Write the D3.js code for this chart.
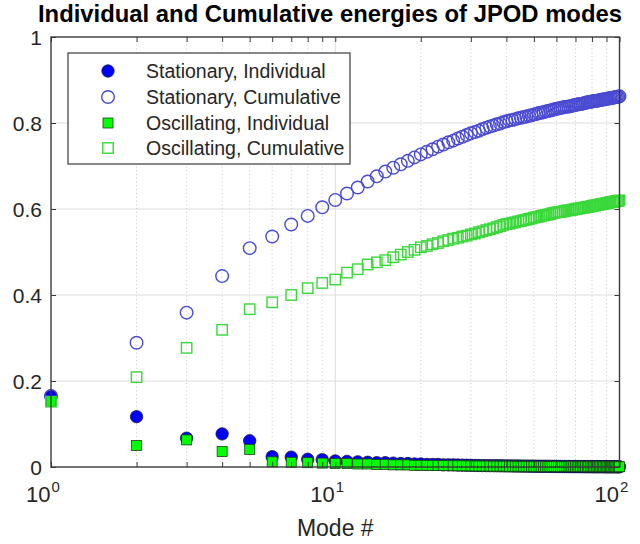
<!DOCTYPE html>
<html>
<head>
<meta charset="utf-8">
<script src="https://cdn.jsdelivr.net/npm/d3@7"></script>
<style>
  html, body { margin: 0; padding: 0; background: #fff; }
  svg { display: block; font-family: "Liberation Sans", Arial, sans-serif; }
</style>
</head>
<body>
<svg id="chart" width="640" height="544"></svg>
<script>
// Energy fraction captured by each JPOD mode (modes 1..100)
const statIndividual = [
  0.165, 0.117, 0.067, 0.077, 0.061, 0.024, 0.023, 0.018, 0.017, 0.014,
  0.013, 0.012, 0.011, 0.010, 0.010, 0.009, 0.008, 0.008, 0.007, 0.007,
  0.006, 0.006, 0.006, 0.005, 0.005, 0.005, 0.0045, 0.0043, 0.0041, 0.0039,
  0.0036, 0.0035, 0.0033, 0.0032, 0.0031, 0.0030, 0.0029, 0.0028, 0.0027, 0.0026,
  0.0025, 0.0024, 0.0023, 0.0022, 0.0021, 0.0020, 0.0020, 0.0019, 0.0018, 0.0018,
  0.0017, 0.0017, 0.0016, 0.0016, 0.0015, 0.0015, 0.0014, 0.0014, 0.0014, 0.0013,
  0.0013, 0.0012, 0.0012, 0.0012, 0.0011, 0.0011, 0.0011, 0.0010, 0.0010, 0.0010,
  0.0010, 0.0009, 0.0009, 0.0009, 0.0009, 0.0008, 0.0008, 0.0008, 0.0008, 0.0008,
  0.0007, 0.0007, 0.0007, 0.0007, 0.0007, 0.0007, 0.0007, 0.0007, 0.0006, 0.0006,
  0.0006, 0.0006, 0.0006, 0.0006, 0.0006, 0.0006, 0.0006, 0.0005, 0.0005, 0.0005
];
const statCumulative = [
  0.165, 0.289, 0.359, 0.444, 0.509, 0.536, 0.564, 0.584, 0.604, 0.621,
  0.636, 0.650, 0.664, 0.676, 0.687, 0.696, 0.704, 0.712, 0.720, 0.727,
  0.733, 0.739, 0.745, 0.750, 0.755, 0.759, 0.764, 0.768, 0.772, 0.776,
  0.779, 0.782, 0.786, 0.789, 0.792, 0.794, 0.797, 0.799, 0.802, 0.804,
  0.806, 0.807, 0.809, 0.811, 0.812, 0.814, 0.815, 0.817, 0.818, 0.820,
  0.821, 0.823, 0.824, 0.825, 0.827, 0.828, 0.829, 0.830, 0.832, 0.833,
  0.834, 0.835, 0.836, 0.837, 0.838, 0.838, 0.839, 0.840, 0.841, 0.842,
  0.843, 0.844, 0.844, 0.845, 0.846, 0.847, 0.848, 0.848, 0.849, 0.850,
  0.851, 0.851, 0.852, 0.852, 0.853, 0.854, 0.854, 0.855, 0.855, 0.856,
  0.857, 0.857, 0.858, 0.858, 0.859, 0.860, 0.860, 0.861, 0.861, 0.862
];
const oscIndividual = [
  0.152, 0.050, 0.063, 0.036, 0.041, 0.012, 0.011, 0.010, 0.009, 0.008,
  0.008, 0.007, 0.007, 0.006, 0.006, 0.005, 0.005, 0.005, 0.004, 0.004,
  0.0040, 0.0038, 0.0036, 0.0034, 0.0032, 0.0030, 0.0029, 0.0028, 0.0027, 0.0026,
  0.0025, 0.0024, 0.0023, 0.0022, 0.0022, 0.0021, 0.0020, 0.0020, 0.0019, 0.0019,
  0.0018, 0.0018, 0.0017, 0.0017, 0.0016, 0.0016, 0.0015, 0.0015, 0.0015, 0.0014,
  0.0014, 0.0013, 0.0013, 0.0013, 0.0012, 0.0012, 0.0012, 0.0011, 0.0011, 0.0011,
  0.0010, 0.0010, 0.0010, 0.0010, 0.0010, 0.0010, 0.0009, 0.0009, 0.0009, 0.0009,
  0.0009, 0.0009, 0.0009, 0.0008, 0.0008, 0.0008, 0.0008, 0.0008, 0.0008, 0.0008,
  0.0008, 0.0008, 0.0008, 0.0007, 0.0007, 0.0007, 0.0007, 0.0007, 0.0007, 0.0007,
  0.0007, 0.0007, 0.0007, 0.0006, 0.0006, 0.0006, 0.0006, 0.0006, 0.0006, 0.0006
];
const oscCumulative = [
  0.152, 0.209, 0.277, 0.319, 0.367, 0.383, 0.400, 0.416, 0.428, 0.436,
  0.452, 0.460, 0.471, 0.476, 0.481, 0.488, 0.494, 0.500, 0.505, 0.511,
  0.514, 0.518, 0.521, 0.525, 0.528, 0.531, 0.533, 0.536, 0.538, 0.541,
  0.543, 0.546, 0.548, 0.551, 0.553, 0.555, 0.558, 0.560, 0.563, 0.565,
  0.566, 0.568, 0.569, 0.571, 0.572, 0.574, 0.575, 0.577, 0.578, 0.580,
  0.581, 0.582, 0.584, 0.585, 0.586, 0.587, 0.588, 0.590, 0.591, 0.592,
  0.593, 0.593, 0.594, 0.595, 0.596, 0.597, 0.597, 0.598, 0.599, 0.600,
  0.601, 0.601, 0.602, 0.603, 0.603, 0.604, 0.605, 0.605, 0.606, 0.607,
  0.608, 0.608, 0.609, 0.610, 0.610, 0.611, 0.612, 0.612, 0.613, 0.614,
  0.614, 0.615, 0.616, 0.616, 0.617, 0.617, 0.618, 0.619, 0.619, 0.620
];
const modes = d3.range(1, statIndividual.length + 1);

const yTicks = [0, 0.2, 0.4, 0.6, 0.8, 1];
const yTickLabels = ["0", "0.2", "0.4", "0.6", "0.8", "1"];
const xDecades = [1, 10, 100];
const xDecadeExponents = ["0", "1", "2"];
const legendLabels = [
  "Stationary, Individual",
  "Stationary, Cumulative",
  "Oscillating, Individual",
  "Oscillating, Cumulative"
];
const titleText = "Individual and Cumulative energies of JPOD modes";
const xLabelText = "Mode #";

// Layout
const margin = { left: 51, right: 20.5, top: 37, bottom: 77 };
const W = 640, H = 544;
const plotW = W - margin.left - margin.right;
const plotH = H - margin.top - margin.bottom;

const svg = d3.select("#chart");
const g = svg.append("g").attr("transform", `translate(${margin.left},${margin.top})`);

const x = d3.scaleLog().domain([1, 100]).range([0, plotW]);
const y = d3.scaleLinear().domain([0, 1]).range([plotH, 0]);

const minorTicks = [];
for (const d of [1, 10]) for (let k = 2; k <= 9; k++) minorTicks.push(d * k);

// Grid
const grid = g.append("g");
grid.selectAll(".gy").data(yTicks.slice(1, -1)).join("line")
  .attr("x1", 0).attr("x2", plotW)
  .attr("y1", d => y(d)).attr("y2", d => y(d))
  .attr("stroke", "#dcdcdc").attr("stroke-width", 1);
grid.selectAll(".gxm").data(minorTicks).join("line")
  .attr("x1", d => x(d)).attr("x2", d => x(d))
  .attr("y1", 0).attr("y2", plotH)
  .attr("stroke", "#cfcfcf").attr("stroke-width", 1)
  .attr("stroke-dasharray", "1.2,2.6");
grid.selectAll(".gx").data(xDecades.slice(1, -1)).join("line")
  .attr("x1", d => x(d)).attr("x2", d => x(d))
  .attr("y1", 0).attr("y2", plotH)
  .attr("stroke", "#dcdcdc").attr("stroke-width", 1);

// Marks
const blue = "#0000ff", green = "#00ff00";
const openBlue = "#4a4ad2", openGreen = "#3ad83a";
const marks = g.append("g");

marks.selectAll(".si").data(modes).join("circle")
  .attr("cx", d => x(d)).attr("cy", (d, i) => y(statIndividual[i]))
  .attr("r", 6.2).attr("fill", blue).attr("stroke", "#1a1a40").attr("stroke-width", 0.8);

marks.selectAll(".sc").data(modes).join("circle")
  .attr("cx", d => x(d)).attr("cy", (d, i) => y(statCumulative[i]))
  .attr("r", 6.3).attr("fill", "none").attr("stroke", openBlue).attr("stroke-width", 1.4);

marks.selectAll(".oi").data(modes).join("rect")
  .attr("x", d => x(d) - 5).attr("y", (d, i) => y(oscIndividual[i]) - 5)
  .attr("width", 10).attr("height", 10)
  .attr("fill", green).attr("stroke", "#1a401a").attr("stroke-width", 0.8);

marks.selectAll(".oc").data(modes).join("rect")
  .attr("x", d => x(d) - 5.2).attr("y", (d, i) => y(oscCumulative[i]) - 5.2)
  .attr("width", 10.4).attr("height", 10.4)
  .attr("fill", "none").attr("stroke", openGreen).attr("stroke-width", 1.4);

// Axes (ticks inside, box on all four sides)
const axisColor = "#3a3a3a";
const tickLen = 5;
function styleAxis(sel) {
  sel.select(".domain").remove();
  sel.selectAll(".tick line").attr("stroke", axisColor).attr("stroke-width", 1);
  sel.selectAll(".tick text").remove();
}
const allXTicks = xDecades.concat(minorTicks);
g.append("g").attr("transform", `translate(0,${plotH})`)
  .call(d3.axisBottom(x).tickValues(allXTicks).tickSize(-tickLen).tickFormat(""))
  .call(styleAxis);
g.append("g")
  .call(d3.axisTop(x).tickValues(allXTicks).tickSize(-tickLen).tickFormat(""))
  .call(styleAxis);
g.append("g")
  .call(d3.axisLeft(y).tickValues(yTicks).tickSize(-tickLen).tickFormat(""))
  .call(styleAxis);
g.append("g").attr("transform", `translate(${plotW},0)`)
  .call(d3.axisRight(y).tickValues(yTicks).tickSize(-tickLen).tickFormat(""))
  .call(styleAxis);

g.append("rect").attr("x", 0).attr("y", 0).attr("width", plotW).attr("height", plotH)
  .attr("fill", "none").attr("stroke", axisColor).attr("stroke-width", 1.4);

// Tick labels
const labelColor = "#262626";
g.selectAll(".ylab").data(yTicks).join("text")
  .attr("x", -9).attr("y", d => y(d)).attr("dy", "0.36em")
  .attr("text-anchor", "end").attr("font-size", 21).attr("fill", labelColor)
  .text((d, i) => yTickLabels[i]);

// Decade labels: the mantissa "10" ends at the tick, exponent raised after it
const xl = g.selectAll(".xlab").data(xDecades).join("text")
  .attr("x", d => x(d) - 25).attr("y", plotH + 35)
  .attr("text-anchor", "start").attr("font-size", 22).attr("fill", labelColor);
xl.append("tspan").text("10");
xl.append("tspan").attr("dx", 1).attr("dy", -10).attr("font-size", 15)
  .text((d, i) => xDecadeExponents[i]);

// Axis label and title
svg.append("text").attr("x", margin.left + plotW / 2).attr("y", 536)
  .attr("text-anchor", "middle").attr("font-size", 23).attr("fill", labelColor)
  .text(xLabelText);

svg.append("text").attr("x", 38).attr("y", 22)
  .attr("font-size", 24).attr("font-weight", "bold")
  .attr("textLength", 584).attr("lengthAdjust", "spacingAndGlyphs")
  .attr("fill", "#000").text(titleText);

// Legend
const legend = svg.append("g").attr("transform", "translate(68,53)");
legend.append("rect").attr("width", 282).attr("height", 111)
  .attr("fill", "#fff").attr("stroke", axisColor).attr("stroke-width", 1.2);
const rowY = [18, 44, 70, 95];
const lx = 40;
legend.append("circle").attr("cx", lx).attr("cy", rowY[0]).attr("r", 6.2)
  .attr("fill", blue).attr("stroke", "#1a1a40").attr("stroke-width", 0.8);
legend.append("circle").attr("cx", lx).attr("cy", rowY[1]).attr("r", 6.3)
  .attr("fill", "none").attr("stroke", openBlue).attr("stroke-width", 1.4);
legend.append("rect").attr("x", lx - 5).attr("y", rowY[2] - 5).attr("width", 10).attr("height", 10)
  .attr("fill", green).attr("stroke", "#1a401a").attr("stroke-width", 0.8);
legend.append("rect").attr("x", lx - 5.2).attr("y", rowY[3] - 5.2).attr("width", 10.4).attr("height", 10.4)
  .attr("fill", "none").attr("stroke", openGreen).attr("stroke-width", 1.4);
legend.selectAll(".lt").data(legendLabels).join("text")
  .attr("x", 78).attr("y", (d, i) => rowY[i]).attr("dy", "0.36em")
  .attr("font-size", 19.5).attr("fill", labelColor)
  .text(d => d);
</script>
</body>
</html>
